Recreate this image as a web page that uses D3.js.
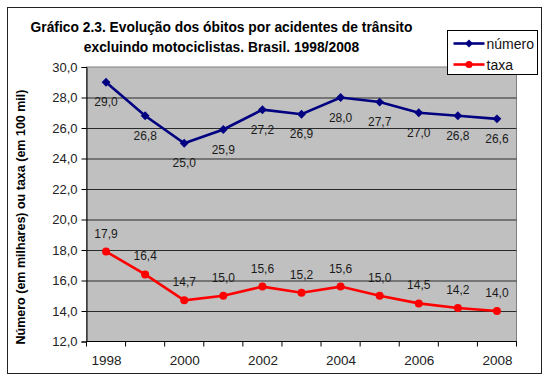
<!DOCTYPE html>
<html>
<head>
<meta charset="utf-8">
<script src="https://cdn.jsdelivr.net/npm/d3@7"></script>
<style>
  body { margin: 0; background: #fff; }
  svg { display: block; font-family: "Liberation Sans", Arial, sans-serif; }
</style>
</head>
<body>
<div id="chart"></div>
<script>
// data
var years = ["1998", "1999", "2000", "2001", "2002", "2003", "2004", "2005", "2006", "2007", "2008"];
var numero = [29.0, 26.8, 25.0, 25.9, 27.2, 26.9, 28.0, 27.7, 27.0, 26.8, 26.6];
var taxa = [17.9, 16.4, 14.7, 15.0, 15.6, 15.2, 15.6, 15.0, 14.5, 14.2, 14.0];
var yTicks = [12, 14, 16, 18, 20, 22, 24, 26, 28, 30];
var xLabels = ["1998", "2000", "2002", "2004", "2006", "2008"];
var titleLines = ["Gráfico 2.3. Evolução dos óbitos por acidentes de trânsito",
                  "excluindo motociclistas. Brasil. 1998/2008"];
var yTitle = "Número (em milhares) ou taxa (em 100 mil)";
var seriesNames = ["número", "taxa"];

var width = 550, height = 381;
var plotLeft = 86.5, plotRight = 516.5, plotTop = 67, plotBottom = 341.5;

var svg = d3.select("#chart").append("svg")
  .attr("width", width).attr("height", height);

// outer frame
svg.append("rect")
  .attr("x", 7.5).attr("y", 7.5).attr("width", 534).attr("height", 366)
  .style("fill", "#fff").style("stroke", "#222").style("stroke-width", 1);

var bandScale = d3.scaleBand().domain(years).range([plotLeft, plotRight]);
var xScale = d3.scalePoint().domain(years).range([plotLeft, plotRight]).padding(0.5);
var yScale = d3.scaleLinear().domain([12, 30]).range([plotBottom, plotTop]);

function fmt(d) {
  return d.toFixed(1).replace(".", ",");
}

// plot area
svg.append("rect")
  .attr("x", plotLeft).attr("y", plotTop)
  .attr("width", plotRight - plotLeft).attr("height", plotBottom - plotTop)
  .style("fill", "#c0c0c0").style("stroke", "#808080");

// gridlines
svg.append("g")
  .attr("transform", "translate(" + plotLeft + ",0)")
  .call(d3.axisLeft(yScale).tickValues(yTicks.slice(1, -1)).tickSize(-(plotRight - plotLeft)).tickFormat(""))
  .call(function (g) { g.select(".domain").remove(); })
  .selectAll("line").style("stroke", "#2a2a2a");

// y axis
var yAxis = svg.append("g")
  .attr("transform", "translate(" + plotLeft + ",0)")
  .call(d3.axisLeft(yScale).tickValues(yTicks).tickSize(5).tickPadding(4).tickFormat(fmt));
yAxis.selectAll("text").style("font-size", "13px").style("fill", "#222")
  .style("font-family", "Liberation Sans, Arial, sans-serif");
yAxis.selectAll("line, path").style("stroke", "#000");

// x axis: tick marks between categories
var xAxis = svg.append("g").attr("transform", "translate(0," + plotBottom + ")");
xAxis.append("line")
  .attr("x1", plotLeft).attr("x2", plotRight)
  .style("stroke", "#000");
xAxis.selectAll("line.tick")
  .data(years.concat(["end"]))
  .enter()
  .append("line")
  .attr("class", "tick")
  .attr("x1", function (d) { return d == "end" ? plotRight : bandScale(d); })
  .attr("x2", function (d) { return d == "end" ? plotRight : bandScale(d); })
  .attr("y1", 0).attr("y2", 5)
  .style("stroke", "#000");

var xLab = svg.append("g")
  .attr("transform", "translate(0," + plotBottom + ")")
  .call(d3.axisBottom(xScale).tickValues(xLabels).tickSize(0).tickPadding(14));
xLab.select(".domain").remove();
xLab.selectAll("text").style("font-size", "13.5px").style("fill", "#222")
  .style("font-family", "Liberation Sans, Arial, sans-serif");

// lines
var line = d3.line()
  .x(function (d, i) { return xScale(years[i]); })
  .y(function (d) { return yScale(d); });

svg.append("path").datum(numero)
  .attr("d", line)
  .style("fill", "none").style("stroke", "#000080").style("stroke-width", 2.6);

svg.append("path").datum(taxa)
  .attr("d", line)
  .style("fill", "none").style("stroke", "#ff0000").style("stroke-width", 2.6);

// markers
svg.selectAll("path.diamond")
  .data(numero)
  .enter()
  .append("path")
  .attr("class", "diamond")
  .attr("d", d3.symbol().type(d3.symbolDiamond2).size(50))
  .attr("transform", function (d, i) {
    return "translate(" + xScale(years[i]) + "," + yScale(d) + ")";
  })
  .style("fill", "#000080");

svg.selectAll("circle.dot")
  .data(taxa)
  .enter()
  .append("circle")
  .attr("class", "dot")
  .attr("cx", function (d, i) { return xScale(years[i]); })
  .attr("cy", function (d) { return yScale(d); })
  .attr("r", 4)
  .style("fill", "#ff0000");

// data labels
svg.selectAll("text.lblNum")
  .data(numero)
  .enter()
  .append("text")
  .attr("class", "lblNum")
  .text(fmt)
  .attr("x", function (d, i) { return xScale(years[i]); })
  .attr("y", function (d) { return yScale(d) + 24; })
  .attr("text-anchor", "middle")
  .style("font-size", "12px").style("fill", "#1a1a1a");

svg.selectAll("text.lblTaxa")
  .data(taxa)
  .enter()
  .append("text")
  .attr("class", "lblTaxa")
  .text(fmt)
  .attr("x", function (d, i) { return xScale(years[i]); })
  .attr("y", function (d) { return yScale(d) - 14; })
  .attr("text-anchor", "middle")
  .style("font-size", "12px").style("fill", "#1a1a1a");

// title
svg.selectAll("text.title")
  .data(titleLines)
  .enter()
  .append("text")
  .attr("class", "title")
  .text(function (d) { return d; })
  .attr("x", 221.5)
  .attr("y", function (d, i) { return 32 + i * 19.5; })
  .attr("text-anchor", "middle")
  .style("font-size", "13.8px").style("font-weight", "bold").style("fill", "#000");

// y axis title
svg.append("text")
  .text(yTitle)
  .attr("transform", "translate(25,217) rotate(-90)")
  .attr("text-anchor", "middle")
  .style("font-size", "12.5px").style("font-weight", "bold").style("fill", "#000");

// legend
var legend = svg.append("g").attr("transform", "translate(447.5,30.5)");
legend.append("rect")
  .attr("width", 90).attr("height", 44)
  .style("fill", "#fff").style("stroke", "#000");

var colors = ["#000080", "#ff0000"];
var item = legend.selectAll("g.item")
  .data(seriesNames)
  .enter()
  .append("g")
  .attr("class", "item")
  .attr("transform", function (d, i) { return "translate(0," + (13 + i * 21) + ")"; });

item.append("line")
  .attr("x1", 6).attr("x2", 37)
  .style("stroke", function (d, i) { return colors[i]; })
  .style("stroke-width", 2.6);

item.append("path")
  .attr("d", function (d, i) {
    return d3.symbol().type(i == 0 ? d3.symbolDiamond2 : d3.symbolCircle).size(40)();
  })
  .attr("transform", "translate(21.5,0)")
  .style("fill", function (d, i) { return colors[i]; });

item.append("text")
  .text(function (d) { return d; })
  .attr("x", 39)
  .attr("y", 5)
  .style("font-size", "14px").style("fill", "#111");
</script>
</body>
</html>
